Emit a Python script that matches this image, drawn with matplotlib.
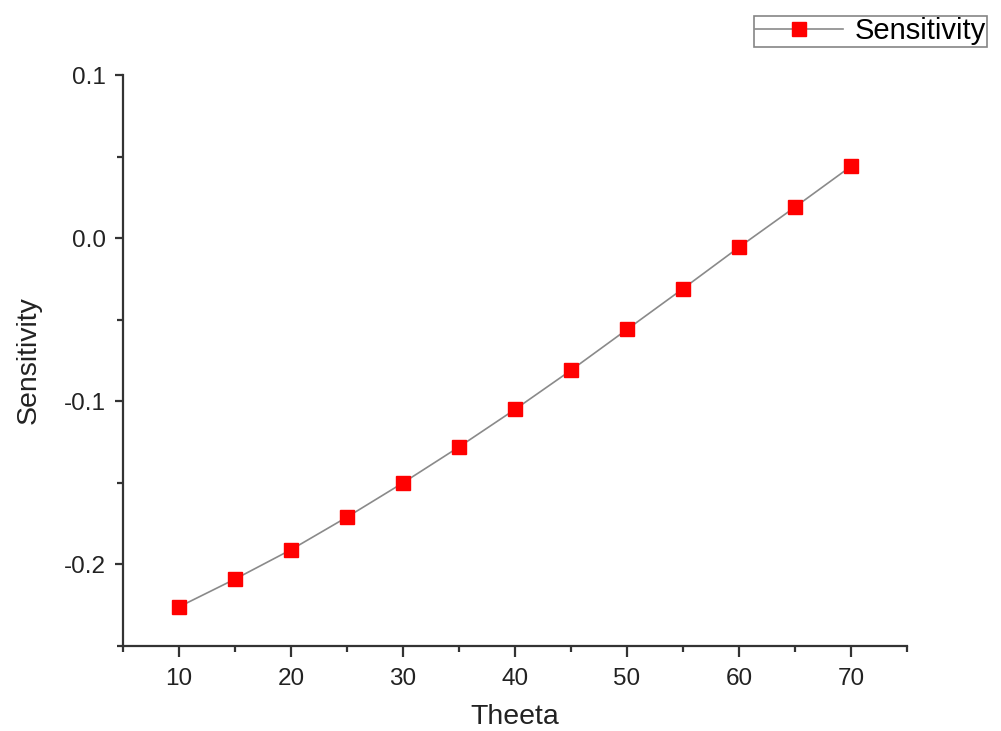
import matplotlib
matplotlib.use("Agg")
import matplotlib.pyplot as plt
from matplotlib.ticker import MultipleLocator

plt.rcParams['font.family'] = ['Liberation Sans', 'DejaVu Sans']

# data
theeta = [10, 15, 20, 25, 30, 35, 40, 45, 50, 55, 60, 65, 70]
sensitivity = [-0.226, -0.209, -0.191, -0.171, -0.150, -0.128, -0.105,
               -0.081, -0.056, -0.031, -0.0056, 0.019, 0.044]

fig = plt.figure(figsize=(10.01, 7.31), dpi=100)
ax = fig.add_axes([0.1229, 0.1163, 0.7831, 0.7811])

ax.plot(theeta, sensitivity, color="#8a8a8a", lw=1.2, marker="s",
        markersize=10, markerfacecolor="#ff0000", markeredgecolor="#ff0000",
        label="Sensitivity", clip_on=False)

ax.set_xlim(5, 75)
ax.set_ylim(-0.25, 0.1)
ax.xaxis.set_major_locator(MultipleLocator(10))
ax.xaxis.set_minor_locator(MultipleLocator(5))
ax.yaxis.set_major_locator(MultipleLocator(0.1))
ax.yaxis.set_minor_locator(MultipleLocator(0.05))
ax.yaxis.set_major_formatter(plt.FuncFormatter(lambda v, p: f"{v:.1f}"))

for s in ["top", "right"]:
    ax.spines[s].set_visible(False)
for s in ["left", "bottom"]:
    ax.spines[s].set_linewidth(1.6)
    ax.spines[s].set_color("#333333")

ax.tick_params(axis="x", which="major", direction="out", length=8, width=1.6,
               labelsize=17.5, colors="#333333", labelcolor="#222222", pad=8)
ax.tick_params(axis="y", which="major", direction="out", length=6, width=1.6,
               labelsize=17.5, colors="#333333", labelcolor="#222222", pad=6)
ax.tick_params(which="minor", direction="out", length=4, width=1.6,
               colors="#333333")

ax.set_xlabel("Theeta", fontsize=20.5, color="#222222", labelpad=10)
ax.set_ylabel("Sensitivity", fontsize=20.5, color="#222222", labelpad=16)

leg = fig.legend(loc="upper left", bbox_to_anchor=(754 / 1001, 1 - 16 / 731),
                 fontsize=21, frameon=True, fancybox=False, borderpad=0.05,
                 handlelength=3.0, handletextpad=0.4, borderaxespad=0)
leg.get_frame().set_edgecolor("#666666")
leg.get_frame().set_linewidth(1.2)

fig.savefig("out.png", dpi=100)
